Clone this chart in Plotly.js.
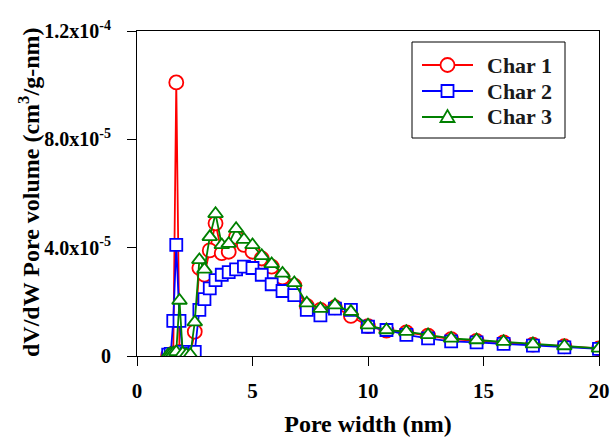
<!DOCTYPE html>
<html>
<head>
<meta charset="utf-8">
<script src="https://cdn.plot.ly/plotly-3.0.1.min.js"></script>
<style>html,body{margin:0;padding:0;background:#fff;}#chart{width:612px;height:437px;}</style>
</head>
<body>
<div id="chart"></div>
<script>
// Pore width (nm)
const poreWidth = [1.35, 1.46, 1.57, 1.70, 1.84, 1.98, 2.14, 2.31, 2.50, 2.70, 2.92, 3.15, 3.40, 3.67, 3.97, 4.29, 4.63, 5.00, 5.40, 5.83, 6.30, 6.81, 7.35, 7.94, 8.57, 9.26, 10.0, 10.8, 11.66, 12.6, 13.6, 14.7, 15.87, 17.14, 18.5, 20.0];
// dV/dW values in units of 1e-6 cm3/g-nm
const char1 = [0.3, 0.5, 1.0, 101, 1.5, 0.5, 0.3, 0.5, 9.0, 32.5, 30.0, 39.0, 49.0, 38.0, 38.5, 44.0, 41.0, 38.5, 36.0, 33.0, 29.0, 26.0, 18.5, 17.0, 18.0, 14.8, 11.0, 9.4, 8.7, 7.5, 6.2, 5.6, 5.0, 4.2, 3.6, 2.8];
const char2 = [0.5, 0.8, 13.0, 41.0, 13.0, 1.5, 0.8, 0.8, 1.5, 17.0, 21.0, 25.0, 28.0, 30.0, 31.0, 32.0, 33.0, 32.5, 30.0, 26.5, 24.0, 22.5, 17.0, 15.0, 17.5, 17.0, 10.8, 9.6, 7.8, 6.5, 5.4, 5.0, 4.5, 3.8, 3.2, 2.6];
const char3 = [0.5, 0.8, 1.0, 1.5, 20.5, 1.0, 0.5, 0.5, 12.5, 35.5, 32.0, 44.0, 52.5, 41.0, 41.5, 47.0, 43.0, 41.0, 37.0, 34.0, 30.5, 27.0, 19.5, 17.5, 18.8, 16.4, 11.4, 9.6, 9.0, 7.8, 6.5, 5.9, 5.3, 4.4, 3.7, 2.8];
const seriesNames = ["Char 1", "Char 2", "Char 3"];
const yTickVals = [0, 4e-5, 8e-5, 1.2e-4];
const yTickText = ["0", "4.0x10<sup>-5</sup>", "8.0x10<sup>-5</sup>", "1.2x10<sup>-4</sup>"];
const xTickVals = [0, 5, 10, 15, 20];
const xTitle = "Pore width (nm)";
const yTitle = "dV/dW Pore volume (cm<sup>3</sup>/g-nm)";

const scale = v => v.map(d => d * 1e-6);
const serif = "Liberation Serif, Times New Roman, serif";
const colors = ["#ff0000", "#0000ff", "#008000"];
const symbols = ["circle", "square", "triangle-up"];
const sizes = [14, 12, 13];
const ys = [char1, char2, char3];

const traces = ys.map((y, i) => ({
  x: poreWidth,
  y: scale(y),
  name: seriesNames[i],
  type: "scatter",
  mode: "lines+markers",
  showlegend: false,
  line: {color: colors[i], width: 1.8},
  marker: {symbol: symbols[i], size: sizes[i], color: "#ffffff",
           line: {color: colors[i], width: 1.8}}
}));

// plot-area geometry (pixels) used to place the hand-drawn legend
const M = {l: 137, r: 13, t: 31, b: 81};
const PW = 612 - M.l - M.r, PH = 437 - M.t - M.b;
const px = x => (x - M.l) / PW;
const py = y => (M.t + PH - y) / PH;

const shapes = [];
const annotations = [];
// legend box
shapes.push({type: "rect", xref: "paper", yref: "paper", x0: px(412), x1: px(565), y0: py(138), y1: py(42),
             line: {color: "#000", width: 1}, fillcolor: "#ffffff", layer: "above"});
const rowY = [65, 91, 117];
const lx0 = 422, lx1 = 473, mx = 447.5;
seriesNames.forEach((name, i) => {
  const yy = rowY[i];
  shapes.push({type: "line", xref: "paper", yref: "paper", x0: px(lx0), x1: px(lx1), y0: py(yy), y1: py(yy),
               line: {color: colors[i], width: 1.8}, layer: "above"});
  if (i === 0) {
    const r = 7;
    shapes.push({type: "circle", xref: "paper", yref: "paper", x0: px(mx - r), x1: px(mx + r), y0: py(yy + r), y1: py(yy - r),
                 line: {color: colors[i], width: 1.8}, fillcolor: "#ffffff", layer: "above"});
  } else if (i === 1) {
    const r = 6;
    shapes.push({type: "rect", xref: "paper", yref: "paper", x0: px(mx - r), x1: px(mx + r), y0: py(yy + r), y1: py(yy - r),
                 line: {color: colors[i], width: 1.8}, fillcolor: "#ffffff", layer: "above"});
  } else {
    const hw = 7, top = yy - 7, bot = yy + 5;
    shapes.push({type: "path", xref: "paper", yref: "paper",
                 path: `M ${px(mx - hw)} ${py(bot)} L ${px(mx + hw)} ${py(bot)} L ${px(mx)} ${py(top)} Z`,
                 line: {color: colors[i], width: 1.8}, fillcolor: "#ffffff", layer: "above"});
  }
  annotations.push({xref: "paper", yref: "paper", x: px(485), y: py(yy), xanchor: "left", yanchor: "middle",
                    showarrow: false, text: "<b>" + name + "</b>",
                    font: {family: serif, size: 22, color: "#1a1a1a"}});
});
// y-axis title placed as a rotated annotation
annotations.push({xref: "paper", yref: "paper", x: px(29), y: py(193), xanchor: "center", yanchor: "middle",
                  showarrow: false, textangle: -90, text: "<b>" + yTitle + "</b>",
                  font: {family: serif, size: 24, color: "#000"}});

const layout = {
  width: 612, height: 437,
  margin: M,
  paper_bgcolor: "#ffffff", plot_bgcolor: "#ffffff",
  font: {family: serif, size: 21, color: "#000000", weight: "bold"},
  showlegend: false,
  shapes: shapes,
  annotations: annotations,
  xaxis: {
    range: [0, 20], tickvals: xTickVals, ticks: "outside", ticklen: 9, tickwidth: 1,
    tickcolor: "#000", showline: true, linecolor: "#000", linewidth: 1, mirror: true,
    showgrid: false, zeroline: false, ticklabelstandoff: 7,
    tickfont: {family: serif, size: 21, weight: "bold"},
    title: {text: "<b>" + xTitle + "</b>", font: {family: serif, size: 24}, standoff: 14}
  },
  yaxis: {
    range: [0, 1.2e-4], tickvals: yTickVals, ticktext: yTickText, ticks: "outside", ticklen: 9,
    tickwidth: 1, tickcolor: "#000", showline: true, linecolor: "#000", linewidth: 1, mirror: true,
    showgrid: false, zeroline: false, ticklabelstandoff: 12,
    tickfont: {family: serif, size: 20, weight: "bold"}
  }
};

Plotly.newPlot("chart", traces, layout, {displayModeBar: false, staticPlot: true});
</script>
</body>
</html>
